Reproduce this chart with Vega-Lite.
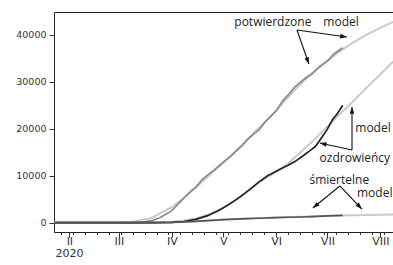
{
  "$schema": "https://vega.github.io/schema/vega-lite/v6.json",
  "width": 340,
  "height": 220,
  "autosize": "none",
  "padding": {"left": 54, "top": 12, "right": 0, "bottom": 33},
  "background": "white",
  "config": {
    "view": {"stroke": "#222", "strokeWidth": 1},
    "axis": {"domain": false, "grid": false, "title": null, "tickColor": "#333", "labelColor": "#333", "labelFont": "DejaVu Sans"}
  },
  "datasets": {
    "model": [
      {"date": "2020-01-23", "value": 0, "series": "potwierdzone model"},
      {"date": "2020-02-20", "value": 10, "series": "potwierdzone model"},
      {"date": "2020-03-01", "value": 60, "series": "potwierdzone model"},
      {"date": "2020-03-10", "value": 280, "series": "potwierdzone model"},
      {"date": "2020-03-20", "value": 1000, "series": "potwierdzone model"},
      {"date": "2020-04-01", "value": 3300, "series": "potwierdzone model"},
      {"date": "2020-04-08", "value": 5300, "series": "potwierdzone model"},
      {"date": "2020-04-15", "value": 7500, "series": "potwierdzone model"},
      {"date": "2020-04-22", "value": 9800, "series": "potwierdzone model"},
      {"date": "2020-05-01", "value": 12700, "series": "potwierdzone model"},
      {"date": "2020-05-08", "value": 15100, "series": "potwierdzone model"},
      {"date": "2020-05-15", "value": 17600, "series": "potwierdzone model"},
      {"date": "2020-05-22", "value": 20200, "series": "potwierdzone model"},
      {"date": "2020-06-01", "value": 23800, "series": "potwierdzone model"},
      {"date": "2020-06-08", "value": 26700, "series": "potwierdzone model"},
      {"date": "2020-06-15", "value": 29400, "series": "potwierdzone model"},
      {"date": "2020-06-22", "value": 31800, "series": "potwierdzone model"},
      {"date": "2020-07-01", "value": 34400, "series": "potwierdzone model"},
      {"date": "2020-07-08", "value": 36400, "series": "potwierdzone model"},
      {"date": "2020-07-15", "value": 38100, "series": "potwierdzone model"},
      {"date": "2020-07-22", "value": 39600, "series": "potwierdzone model"},
      {"date": "2020-08-01", "value": 41500, "series": "potwierdzone model"},
      {"date": "2020-08-09", "value": 42800, "series": "potwierdzone model"},
      {"date": "2020-01-23", "value": 0, "series": "ozdrowieńcy model"},
      {"date": "2020-03-10", "value": 10, "series": "ozdrowieńcy model"},
      {"date": "2020-03-25", "value": 80, "series": "ozdrowieńcy model"},
      {"date": "2020-04-01", "value": 200, "series": "ozdrowieńcy model"},
      {"date": "2020-04-08", "value": 450, "series": "ozdrowieńcy model"},
      {"date": "2020-04-15", "value": 900, "series": "ozdrowieńcy model"},
      {"date": "2020-04-22", "value": 1700, "series": "ozdrowieńcy model"},
      {"date": "2020-05-01", "value": 3200, "series": "ozdrowieńcy model"},
      {"date": "2020-05-08", "value": 4800, "series": "ozdrowieńcy model"},
      {"date": "2020-05-15", "value": 6600, "series": "ozdrowieńcy model"},
      {"date": "2020-05-22", "value": 8600, "series": "ozdrowieńcy model"},
      {"date": "2020-06-01", "value": 10800, "series": "ozdrowieńcy model"},
      {"date": "2020-06-08", "value": 12600, "series": "ozdrowieńcy model"},
      {"date": "2020-06-15", "value": 14900, "series": "ozdrowieńcy model"},
      {"date": "2020-06-22", "value": 17200, "series": "ozdrowieńcy model"},
      {"date": "2020-07-01", "value": 20500, "series": "ozdrowieńcy model"},
      {"date": "2020-07-08", "value": 23000, "series": "ozdrowieńcy model"},
      {"date": "2020-07-15", "value": 25400, "series": "ozdrowieńcy model"},
      {"date": "2020-07-22", "value": 28000, "series": "ozdrowieńcy model"},
      {"date": "2020-08-01", "value": 31600, "series": "ozdrowieńcy model"},
      {"date": "2020-08-09", "value": 34400, "series": "ozdrowieńcy model"},
      {"date": "2020-01-23", "value": 0, "series": "śmiertelne model"},
      {"date": "2020-03-10", "value": 2, "series": "śmiertelne model"},
      {"date": "2020-03-25", "value": 30, "series": "śmiertelne model"},
      {"date": "2020-04-01", "value": 80, "series": "śmiertelne model"},
      {"date": "2020-04-15", "value": 330, "series": "śmiertelne model"},
      {"date": "2020-05-01", "value": 630, "series": "śmiertelne model"},
      {"date": "2020-05-15", "value": 870, "series": "śmiertelne model"},
      {"date": "2020-06-01", "value": 1080, "series": "śmiertelne model"},
      {"date": "2020-06-15", "value": 1240, "series": "śmiertelne model"},
      {"date": "2020-07-01", "value": 1420, "series": "śmiertelne model"},
      {"date": "2020-07-15", "value": 1570, "series": "śmiertelne model"},
      {"date": "2020-08-01", "value": 1690, "series": "śmiertelne model"},
      {"date": "2020-08-09", "value": 1740, "series": "śmiertelne model"}
    ],
    "observed": [
      {"date": "2020-01-23", "value": 0, "series": "potwierdzone"},
      {"date": "2020-03-04", "value": 1, "series": "potwierdzone"},
      {"date": "2020-03-10", "value": 22, "series": "potwierdzone"},
      {"date": "2020-03-15", "value": 119, "series": "potwierdzone"},
      {"date": "2020-03-20", "value": 425, "series": "potwierdzone"},
      {"date": "2020-03-25", "value": 1051, "series": "potwierdzone"},
      {"date": "2020-04-01", "value": 2554, "series": "potwierdzone"},
      {"date": "2020-04-05", "value": 4102, "series": "potwierdzone"},
      {"date": "2020-04-08", "value": 5205, "series": "potwierdzone"},
      {"date": "2020-04-12", "value": 6674, "series": "potwierdzone"},
      {"date": "2020-04-15", "value": 7582, "series": "potwierdzone"},
      {"date": "2020-04-19", "value": 9287, "series": "potwierdzone"},
      {"date": "2020-04-22", "value": 10169, "series": "potwierdzone"},
      {"date": "2020-04-26", "value": 11273, "series": "potwierdzone"},
      {"date": "2020-05-01", "value": 12877, "series": "potwierdzone"},
      {"date": "2020-05-05", "value": 14006, "series": "potwierdzone"},
      {"date": "2020-05-08", "value": 15047, "series": "potwierdzone"},
      {"date": "2020-05-12", "value": 16326, "series": "potwierdzone"},
      {"date": "2020-05-15", "value": 17615, "series": "potwierdzone"},
      {"date": "2020-05-19", "value": 18885, "series": "potwierdzone"},
      {"date": "2020-05-22", "value": 19739, "series": "potwierdzone"},
      {"date": "2020-05-26", "value": 21631, "series": "potwierdzone"},
      {"date": "2020-06-01", "value": 23786, "series": "potwierdzone"},
      {"date": "2020-06-05", "value": 25986, "series": "potwierdzone"},
      {"date": "2020-06-08", "value": 27160, "series": "potwierdzone"},
      {"date": "2020-06-12", "value": 28900, "series": "potwierdzone"},
      {"date": "2020-06-15", "value": 29788, "series": "potwierdzone"},
      {"date": "2020-06-19", "value": 31000, "series": "potwierdzone"},
      {"date": "2020-06-22", "value": 31620, "series": "potwierdzone"},
      {"date": "2020-06-26", "value": 33119, "series": "potwierdzone"},
      {"date": "2020-07-01", "value": 34393, "series": "potwierdzone"},
      {"date": "2020-07-05", "value": 35950, "series": "potwierdzone"},
      {"date": "2020-07-10", "value": 37216, "series": "potwierdzone"},
      {"date": "2020-01-23", "value": 0, "series": "ozdrowieńcy"},
      {"date": "2020-03-20", "value": 10, "series": "ozdrowieńcy"},
      {"date": "2020-04-01", "value": 60, "series": "ozdrowieńcy"},
      {"date": "2020-04-08", "value": 250, "series": "ozdrowieńcy"},
      {"date": "2020-04-15", "value": 700, "series": "ozdrowieńcy"},
      {"date": "2020-04-22", "value": 1500, "series": "ozdrowieńcy"},
      {"date": "2020-04-29", "value": 2700, "series": "ozdrowieńcy"},
      {"date": "2020-05-05", "value": 4000, "series": "ozdrowieńcy"},
      {"date": "2020-05-11", "value": 5500, "series": "ozdrowieńcy"},
      {"date": "2020-05-17", "value": 7200, "series": "ozdrowieńcy"},
      {"date": "2020-05-22", "value": 8700, "series": "ozdrowieńcy"},
      {"date": "2020-05-27", "value": 10000, "series": "ozdrowieńcy"},
      {"date": "2020-06-03", "value": 11300, "series": "ozdrowieńcy"},
      {"date": "2020-06-08", "value": 12200, "series": "ozdrowieńcy"},
      {"date": "2020-06-12", "value": 13000, "series": "ozdrowieńcy"},
      {"date": "2020-06-17", "value": 14300, "series": "ozdrowieńcy"},
      {"date": "2020-06-21", "value": 15400, "series": "ozdrowieńcy"},
      {"date": "2020-06-24", "value": 16200, "series": "ozdrowieńcy"},
      {"date": "2020-06-28", "value": 18300, "series": "ozdrowieńcy"},
      {"date": "2020-07-01", "value": 19900, "series": "ozdrowieńcy"},
      {"date": "2020-07-04", "value": 21900, "series": "ozdrowieńcy"},
      {"date": "2020-07-07", "value": 23300, "series": "ozdrowieńcy"},
      {"date": "2020-07-10", "value": 25000, "series": "ozdrowieńcy"},
      {"date": "2020-01-23", "value": 0, "series": "śmiertelne"},
      {"date": "2020-03-12", "value": 1, "series": "śmiertelne"},
      {"date": "2020-03-20", "value": 5, "series": "śmiertelne"},
      {"date": "2020-04-01", "value": 43, "series": "śmiertelne"},
      {"date": "2020-04-08", "value": 174, "series": "śmiertelne"},
      {"date": "2020-04-15", "value": 286, "series": "śmiertelne"},
      {"date": "2020-04-22", "value": 454, "series": "śmiertelne"},
      {"date": "2020-05-01", "value": 644, "series": "śmiertelne"},
      {"date": "2020-05-08", "value": 755, "series": "śmiertelne"},
      {"date": "2020-05-15", "value": 883, "series": "śmiertelne"},
      {"date": "2020-05-22", "value": 948, "series": "śmiertelne"},
      {"date": "2020-06-01", "value": 1064, "series": "śmiertelne"},
      {"date": "2020-06-08", "value": 1157, "series": "śmiertelne"},
      {"date": "2020-06-15", "value": 1215, "series": "śmiertelne"},
      {"date": "2020-06-22", "value": 1298, "series": "śmiertelne"},
      {"date": "2020-07-01", "value": 1463, "series": "śmiertelne"},
      {"date": "2020-07-10", "value": 1560, "series": "śmiertelne"}
    ],
    "labels": [
      {"text": "potwierdzone", "date": "2020-05-30T02:00:00Z", "value": 42700},
      {"text": "model", "date": "2020-07-09T00:00:00Z", "value": 42700},
      {"text": "model", "date": "2020-07-27T17:00:00Z", "value": 20150},
      {"text": "ozdrowieńcy", "date": "2020-07-17T02:00:00Z", "value": 13770},
      {"text": "śmiertelne", "date": "2020-07-08T00:00:00Z", "value": 9150},
      {"text": "model", "date": "2020-07-28T17:00:00Z", "value": 6350}
    ],
    "arrows": [
      {"t0": "2020-06-13T05:00:00Z", "v0": 41000, "t1": "2020-06-20T05:00:00Z", "v1": 33770},
      {"t0": "2020-06-13T05:00:00Z", "v0": 41000, "t1": "2020-07-12T10:00:00Z", "v1": 39500},
      {"t0": "2020-07-15T10:00:00Z", "v0": 15470, "t1": "2020-07-15T10:00:00Z", "v1": 24620},
      {"t0": "2020-07-15T10:00:00Z", "v0": 15470, "t1": "2020-06-26T14:00:00Z", "v1": 16960},
      {"t0": "2020-07-08T07:00:00Z", "v0": 7810, "t1": "2020-06-22T12:00:00Z", "v1": 3130},
      {"t0": "2020-07-08T07:00:00Z", "v0": 7810, "t1": "2020-07-21T05:00:00Z", "v1": 2910}
    ]
  },
  "encoding": {
    "x": {
      "type": "temporal",
      "scale": {"type": "utc", "domain": [{"year": 2020, "month": 1, "date": 23, "utc": true}, {"year": 2020, "month": 8, "date": 9, "utc": true}]},
      "axis": {
        "values": [
          {"year": 2020, "month": 1, "date": 27, "utc": true},
          {"year": 2020, "month": 2, "date": 1, "utc": true},
          {"year": 2020, "month": 2, "date": 3, "utc": true},
          {"year": 2020, "month": 2, "date": 10, "utc": true},
          {"year": 2020, "month": 2, "date": 17, "utc": true},
          {"year": 2020, "month": 2, "date": 24, "utc": true},
          {"year": 2020, "month": 3, "date": 1, "utc": true},
          {"year": 2020, "month": 3, "date": 2, "utc": true},
          {"year": 2020, "month": 3, "date": 9, "utc": true},
          {"year": 2020, "month": 3, "date": 16, "utc": true},
          {"year": 2020, "month": 3, "date": 23, "utc": true},
          {"year": 2020, "month": 3, "date": 30, "utc": true},
          {"year": 2020, "month": 4, "date": 1, "utc": true},
          {"year": 2020, "month": 4, "date": 6, "utc": true},
          {"year": 2020, "month": 4, "date": 13, "utc": true},
          {"year": 2020, "month": 4, "date": 20, "utc": true},
          {"year": 2020, "month": 4, "date": 27, "utc": true},
          {"year": 2020, "month": 5, "date": 1, "utc": true},
          {"year": 2020, "month": 5, "date": 4, "utc": true},
          {"year": 2020, "month": 5, "date": 11, "utc": true},
          {"year": 2020, "month": 5, "date": 18, "utc": true},
          {"year": 2020, "month": 5, "date": 25, "utc": true},
          {"year": 2020, "month": 6, "date": 1, "utc": true},
          {"year": 2020, "month": 6, "date": 8, "utc": true},
          {"year": 2020, "month": 6, "date": 15, "utc": true},
          {"year": 2020, "month": 6, "date": 22, "utc": true},
          {"year": 2020, "month": 6, "date": 29, "utc": true},
          {"year": 2020, "month": 7, "date": 1, "utc": true},
          {"year": 2020, "month": 7, "date": 6, "utc": true},
          {"year": 2020, "month": 7, "date": 13, "utc": true},
          {"year": 2020, "month": 7, "date": 20, "utc": true},
          {"year": 2020, "month": 7, "date": 27, "utc": true},
          {"year": 2020, "month": 8, "date": 1, "utc": true},
          {"year": 2020, "month": 8, "date": 3, "utc": true}
        ],
        "labelExpr": "utcdate(datum.value) == 1 ? ['I','II','III','IV','V','VI','VII','VIII','IX'][utcmonth(datum.value)] : ''",
        "tickSize": {"condition": {"test": "utcdate(datum.value) == 1", "value": 5}, "value": 2.5},
        "labelPadding": -2,
        "labelFontSize": 11,
        "labelOverlap": false,
        "labelFlush": false,
        "title": "2020",
        "titleFont": "DejaVu Sans",
        "titleFontSize": 11,
        "titleFontWeight": "normal",
        "titleColor": "#333",
        "titleAnchor": "start",
        "titleAlign": "left",
        "titleBaseline": "alphabetic",
        "titleX": 1,
        "titleY": 24
      }
    },
    "y": {
      "type": "quantitative",
      "scale": {"domain": [-1980, 44830], "nice": false, "zero": false},
      "axis": {"values": [0, 10000, 20000, 30000, 40000], "format": "d", "tickSize": 5, "labelPadding": 3, "labelFontSize": 9.5}
    }
  },
  "layer": [
    {
      "data": {"name": "model"},
      "mark": {"type": "line", "strokeWidth": 2, "clip": true},
      "encoding": {
        "x": {"field": "date", "type": "temporal"},
        "y": {"field": "value", "type": "quantitative"},
        "color": {"field": "series", "type": "nominal", "legend": null,
          "scale": {"domain": ["potwierdzone model", "ozdrowieńcy model", "śmiertelne model", "potwierdzone", "ozdrowieńcy", "śmiertelne"],
                    "range": ["#c9c9c9", "#c9c9c9", "#c9c9c9", "#8a8a8a", "#222222", "#555555"]}}
      }
    },
    {
      "data": {"name": "observed"},
      "mark": {"type": "line", "strokeWidth": 1.7, "clip": true},
      "encoding": {
        "x": {"field": "date", "type": "temporal"},
        "y": {"field": "value", "type": "quantitative"},
        "color": {"field": "series", "type": "nominal", "legend": null}
      }
    },
    {
      "data": {"name": "arrows", "format": {"parse": {"t0": "date", "t1": "date"}}},
      "mark": {"type": "rule", "color": "#111", "strokeWidth": 1.1},
      "encoding": {
        "x": {"field": "t0", "type": "temporal"},
        "x2": {"field": "t1"},
        "y": {"field": "v0", "type": "quantitative"},
        "y2": {"field": "v1"}
      }
    },
    {
      "data": {"name": "arrows", "format": {"parse": {"t0": "date", "t1": "date"}}},
      "mark": {"type": "point", "filled": true, "opacity": 1, "color": "#111", "size": 50,
        "shape": "M0,0L-0.65,1.9L0.65,1.9Z",
        "angle": {"expr": "atan2(scale('x', datum.t1) - scale('x', datum.t0), scale('y', datum.v0) - scale('y', datum.v1)) * 180 / PI"}},
      "encoding": {
        "x": {"field": "t1", "type": "temporal"},
        "y": {"field": "v1", "type": "quantitative"}
      }
    },
    {
      "data": {"name": "labels", "format": {"parse": {"date": "date"}}},
      "mark": {"type": "text", "font": "Open Sans", "fontSize": 12, "color": "#222", "align": "center", "baseline": "middle"},
      "encoding": {
        "x": {"field": "date", "type": "temporal"},
        "y": {"field": "value", "type": "quantitative"},
        "text": {"field": "text"}
      }
    }
  ]
}
